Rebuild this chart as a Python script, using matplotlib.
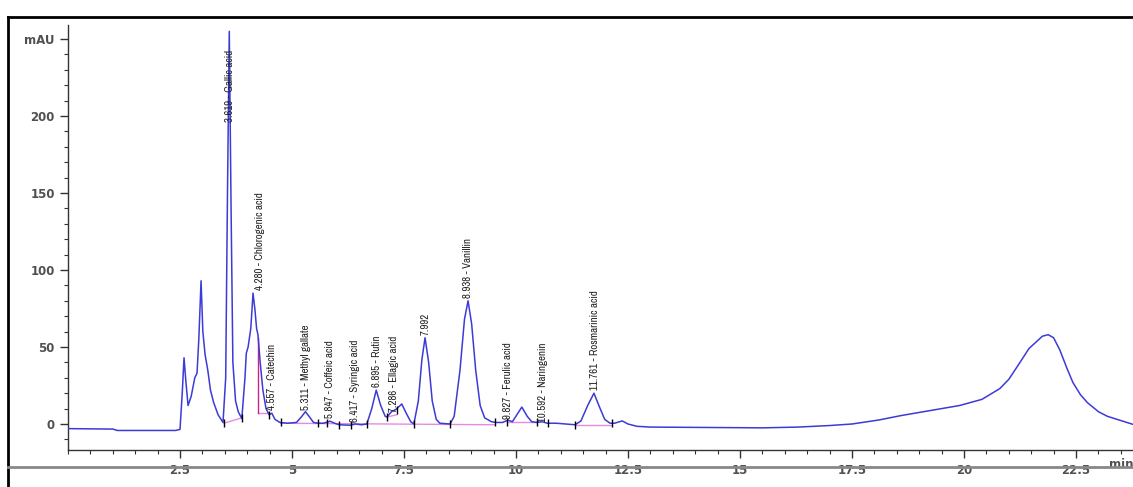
import numpy as np
import matplotlib
matplotlib.use("Agg")
from matplotlib import pyplot as plt
from matplotlib.lines import Line2D
from matplotlib.ticker import MultipleLocator, FixedLocator
from matplotlib import font_manager

# chromatogram trace (time in min, signal in mAU)
time = [0.0, 1.0, 1.1, 2.4, 2.5, 2.55, 2.59, 2.63, 2.68, 2.75, 2.83, 2.88, 2.92, 2.97,
        3.01, 3.06, 3.12, 3.18, 3.25, 3.35, 3.46, 3.52, 3.56, 3.60, 3.64, 3.68, 3.74,
        3.80, 3.88, 3.95, 3.98, 4.02, 4.08, 4.13, 4.17, 4.21, 4.24, 4.29, 4.35, 4.42,
        4.49, 4.55, 4.62, 4.73, 4.9, 5.1, 5.22, 5.30, 5.38, 5.48, 5.58, 5.7, 5.85, 5.95,
        6.05, 6.3, 6.42, 6.55, 6.67, 6.78, 6.88, 6.98, 7.08, 7.12, 7.22, 7.32, 7.45,
        7.55, 7.65, 7.72, 7.82, 7.9, 7.97, 8.05, 8.13, 8.22, 8.3, 8.53, 8.62, 8.75,
        8.85, 8.93, 9.01, 9.1, 9.2, 9.3, 9.45, 9.55, 9.7, 9.82, 9.92, 10.02, 10.13,
        10.25, 10.35, 10.47, 10.58, 10.7, 10.9, 11.1, 11.32, 11.45, 11.6, 11.74, 11.85,
        11.98, 12.1, 12.2, 12.37, 12.5, 12.7, 13.0, 14.0, 15.0, 15.5, 16.3, 17.0, 17.5,
        18.1, 18.6, 19.3, 19.9, 20.4, 20.8, 21.0, 21.25, 21.45, 21.6, 21.75, 21.88,
        22.0, 22.14, 22.3, 22.43, 22.6, 22.75, 23.0, 23.2, 23.8]
signal = [-3, -3.3, -4.2, -4.2, -3.5, 20, 43, 28, 12, 18, 30, 33, 55, 93,
          60, 45, 35, 22, 14, 6, 1, 30, 150, 255, 140, 40, 15,
          8, 3.5, 30, 46, 50, 62, 85, 75, 62, 58, 40, 22, 10,
          6, 7, 3, 1, 0.5, 1, 5, 8, 5, 1, 0.5, 0.5, 1.8, 0.5,
          -0.5, -0.8, 0, -0.5, 0, 10, 22, 12, 5, 4.5, 8, 9.5, 13,
          7, 1.5, 0, 15, 42, 56, 40, 15, 3, 0.5, 0, 5, 35,
          68, 80, 65, 35, 12, 4, 1.5, 1, 1, 2.5, 1.5, 6, 11,
          5, 1.5, 1, 1.5, 0.5, 0.5, 0, -0.5, 2, 12, 20, 12,
          3, 0.5, 0.5, 2, 0, -1.5, -2, -2.2, -2.4, -2.5, -2, -1, 0,
          2.6, 5.5, 9, 12, 16, 23, 29, 40, 49, 53, 57, 58,
          56, 48, 36, 27, 19, 14, 8, 5, -0.5]

# peak annotations
peak_rt = [3.619, 4.280, 4.557, 5.311, 5.847, 6.417, 6.895, 7.286, 7.992, 8.938,
           9.827, 10.592, 11.761]
peak_names = ["Gallic acid", "Chlorogenic acid", "Catechin", "Methyl gallate",
              "Coffeic acid", "Syringic acid", "Rutin", "Ellagic acid", "",
              "Vanillin", "Ferulic acid", "Naringenin", "Rosmarinic acid"]
label_base = [196, 87, 9, 9, 4, 1, 24, 8, 58, 82, 3, 1.5, 22]

# integration baselines and peak boundary marks
base_t0 = [3.48, 4.23, 4.75, 7.12, 9.80, 11.32]
base_y0 = [0.5, 7, 0.5, 4.5, 1, -0.5]
base_t1 = [3.88, 4.49, 9.53, 7.34, 10.47, 12.14]
base_y1 = [4, 7, -0.5, 6, 1, -0.5]
drop_t = [4.23]
drop_lo = [7]
drop_hi = [56]
bound_t = [3.48, 3.88, 4.49, 4.75, 5.58, 5.78, 6.05, 6.32, 6.67, 7.12, 7.34, 7.72,
           8.53, 9.53, 9.80, 10.47, 10.71, 11.32, 12.14]
bound_y = [0.5, 4, 6, 1, 0.5, 0.5, -0.5, -0.8, 0, 4.5, 9, 0,
           0, 1, 1, 1, 0.5, -0.5, 0.5]

# pick a narrow font for the peak labels if one is installed
names = sorted({f.name for f in font_manager.fontManager.ttflist})
narrow = [n for n in names if 'Narrow' in n or 'Condensed' in n]
if narrow:
    label_font, label_size = [narrow[0], 'DejaVu Sans'], 7.8
else:
    label_font, label_size = ['Liberation Sans', 'DejaVu Sans'], 6.6

W, H = 1133, 487
fig = plt.figure(figsize=(W / 100, H / 100), dpi=100)
ax = fig.add_axes([68 / W, 1 - 450 / H, 1 - 68 / W, (450 - 25) / H])

line_col = '#3b3bd6'
pink = '#e58be5'

# integration marks
for t0, y0, t1, y1 in zip(base_t0, base_y0, base_t1, base_y1):
    ax.plot([t0, t1], [y0, y1], color=pink, lw=1.0, zorder=2)
for t, lo, hi in zip(drop_t, drop_lo, drop_hi):
    ax.plot([t, t], [lo, hi], color='#d0208a', lw=1.0, zorder=2)

ax.plot(time, signal, color=line_col, lw=1.1, zorder=3)
ax.plot(bound_t, bound_y, linestyle='none', marker='|', markersize=6,
        markeredgewidth=1.0, color='black', zorder=4)

for rt, name, yb in zip(peak_rt, peak_names, label_base):
    txt = f"{rt:.3f}" + (f" - {name}" if name else "")
    ax.text(rt, yb, txt, rotation=90, ha='center', va='bottom', fontsize=label_size,
            family=label_font, color='#222222', zorder=5, clip_on=False)

ax.set_xlim(0, (W - 68) / 44.8)
ax.set_ylim(-(450 - 424) / 1.54, (424 - 25) / 1.54)

for side in ['top', 'right']:
    ax.spines[side].set_visible(False)
for side in ['left', 'bottom']:
    ax.spines[side].set_color('#333333')
    ax.spines[side].set_linewidth(1.0)

ax.xaxis.set_major_locator(FixedLocator([2.5, 5, 7.5, 10, 12.5, 15, 17.5, 20, 22.5]))
ax.xaxis.set_minor_locator(MultipleLocator(0.5))
ax.set_xticklabels(['2.5', '5', '7.5', '10', '12.5', '15', '17.5', '20', '22.5'])
ax.yaxis.set_major_locator(FixedLocator([0, 50, 100, 150, 200, 250]))
ax.yaxis.set_minor_locator(MultipleLocator(10))
ax.set_yticklabels(['0', '50', '100', '150', '200', 'mAU'])

ax.tick_params(which='major', direction='out', length=6, width=1, colors='#333333',
               labelsize=8.5, labelcolor='#505050')
ax.tick_params(which='minor', direction='out', length=3, width=0.8, colors='#333333')
ax.tick_params(axis='x', which='major', pad=4)
ax.text(1.0, -0.02, 'min', transform=ax.transAxes, ha='right', va='top',
        fontsize=8.5, fontweight='bold', color='#505050', clip_on=False)
for lbl in ax.get_xticklabels() + ax.get_yticklabels():
    lbl.set_fontweight('bold')

# outer frame
fig.add_artist(Line2D([8 / W, 8 / W], [0, 1 - 17 / H], color='black', lw=2))
fig.add_artist(Line2D([8 / W, 1], [1 - 17 / H, 1 - 17 / H], color='black', lw=2))
fig.add_artist(Line2D([8 / W, 1], [1 - 467 / H, 1 - 467 / H], color='#888888', lw=2))

fig.savefig('out.png', dpi=100)
